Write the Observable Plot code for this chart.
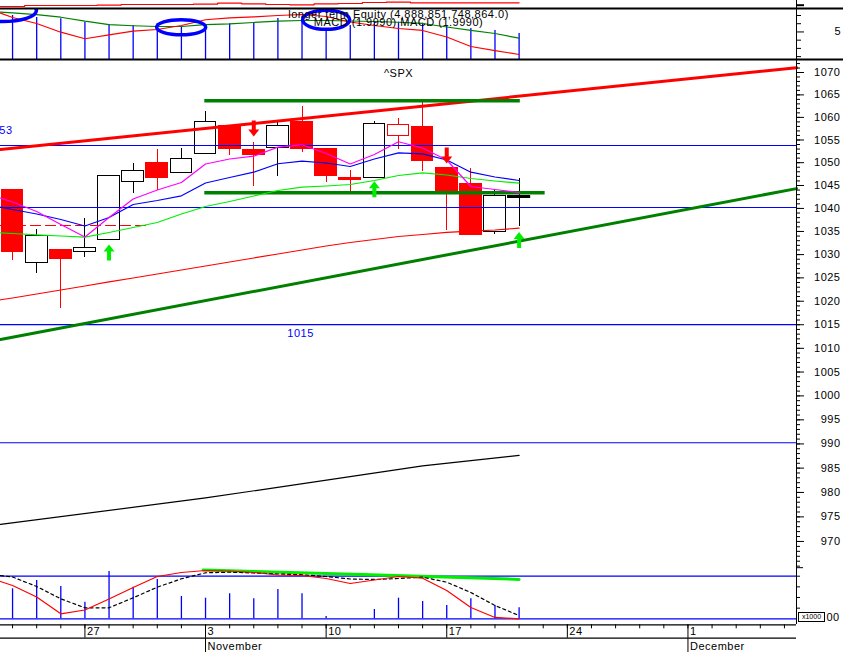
<!DOCTYPE html>
<html><head><meta charset="utf-8">
<script src="https://cdn.jsdelivr.net/npm/d3@7"></script>
<script src="https://cdn.jsdelivr.net/npm/@observablehq/plot@0.6"></script>
<style>
html,body{margin:0;padding:0;background:#fff;}
#chart{position:relative;width:843px;height:652px;overflow:hidden;background:#fff;font-family:"Liberation Sans",Arial,sans-serif;}
#chart svg{position:absolute;left:0;overflow:visible;}
#x1000{position:absolute;left:798px;top:612px;width:25px;height:8px;border:1px solid #000;font:7px "Liberation Sans",Arial,sans-serif;line-height:8px;text-align:center;background:#fff;}
</style></head><body><div id="chart"></div>
<script>
// ---------- calendar (trading-day slots) ----------
const dayLabels = ["22","23","24","27","28","29","30","31","3","4","5","6","7","10","11","12","13","14","17","18","19","20","21","24","25","26","27","28","1","2","3","4","5"];
const mondayIdx = [3, 8, 13, 18, 23, 28];
const monthStartIdx = [8, 28];
const monthNames = ["November", "December"];

// ---------- ^SPX candles (Oct 22 .. Nov 20) ----------
const open  = [1043.91,1028.09,1030.89,1030.46,1033.05,1045.66,1050.04,1047.63,1051.80,1058.20,1052.90,1053.34,1058.87,1053.12,1046.75,1046.75,1055.84,1057.76,1048.79,1045.22,1034.84,1042.60];
const high  = [1043.91,1035.43,1030.89,1037.81,1046.97,1049.82,1052.90,1053.12,1061.31,1058.20,1054.45,1059.09,1062.42,1053.12,1048.29,1059.09,1059.69,1063.37,1048.79,1048.79,1043.91,1046.53];
const low   = [1028.73,1025.94,1018.45,1029.38,1033.05,1043.25,1043.91,1047.63,1051.80,1051.58,1044.78,1046.97,1052.24,1045.66,1043.69,1046.75,1052.90,1048.07,1035.21,1034.19,1034.34,1036.08];
const close = [1030.46,1033.91,1028.95,1031.32,1046.97,1048.07,1046.75,1050.70,1058.87,1053.12,1051.58,1058.20,1053.12,1046.97,1046.31,1058.53,1058.41,1050.33,1043.76,1034.19,1042.60,1042.60];

// ---------- overlays on price panel (first value at the left edge, then one per candle) ----------
const maFast  = [1042.23,1041.40,1039.33,1036.51,1033.80,1038.03,1042.05,1044.02,1045.66,1049.71,1050.81,1051.43,1053.41,1053.94,1052.02,1049.71,1051.80,1054.60,1053.23,1050.59,1044.78,1044.13,1043.47];
const maMid   = [1040.27,1039.77,1038.79,1037.60,1036.18,1038.03,1040.86,1041.73,1042.75,1045.55,1046.75,1047.91,1049.76,1050.33,1049.93,1049.16,1050.81,1052.17,1051.95,1050.59,1047.91,1046.86,1046.09];
const maSlow  = [1034.71,1034.56,1034.28,1034.02,1033.76,1034.78,1035.86,1036.94,1038.79,1040.42,1041.51,1042.71,1043.91,1044.63,1044.89,1045.22,1046.09,1047.19,1047.78,1047.30,1046.53,1045.99,1045.50];
const lowerBand = [1020.31,1020.69,1021.55,1022.40,1023.26,1024.12,1024.97,1025.83,1026.69,1027.55,1028.41,1029.27,1030.13,1030.99,1031.86,1032.61,1033.26,1033.91,1034.34,1034.78,1035.06,1035.32,1035.71];
const longMaIdx = [-0.5, 8, 17, 21];
const longMaVal = [973.46, 978.87, 985.45, 987.61];
const dashIdx = [-0.5, 5.7];
const dashVal = 1036.29;
const upperTrendIdx = [-0.5, 32.5], upperTrendVal = [1052.90, 1071.07];
const lowerTrendIdx = [-0.5, 32.5], lowerTrendVal = [1011.87, 1044.32];
const resistance = {from: 7.97, to: 21.05, value: 1063.68};
const support    = {from: 7.97, to: 22.08, value: 1043.41};
const levels = [1053.78, 1040.20, 1015.0, 990.24];
const edgeLabel = {text: "1053", i: 0.0, v: 1057.09};
const midLabel  = {text: "1015", i: 11.94, v: 1013.14};
const upArrowIdx = [4, 15, 21], upArrowVal = [1030.46, 1044.19, 1033.16];
const downArrowIdx = [10, 18], downArrowVal = [1057.54, 1051.58];
const priceMajor = d3.range(970, 1071, 5);
const priceMinor = d3.range(965, 1073, 1);

// ---------- MACD / equity panel ----------
const macdLine   = [7.28,6.76,6.03,4.97,4.17,4.65,5.09,5.30,5.78,6.48,6.70,6.82,7.00,7.12,6.88,6.21,5.78,5.42,5.18,4.39,3.23,2.74,2.26];
const signalLine = [7.40,7.33,7.10,6.79,6.31,5.90,5.75,5.66,5.66,5.90,5.99,6.15,6.31,6.39,6.39,6.33,6.27,6.18,6.03,5.60,5.18,4.81,4.24];
const macdBars   = [7.0,6.76,6.60,6.18,5.90,5.78,6.03,5.54,5.78,5.99,6.06,6.63,6.88,5.30,5.78,6.18,6.18,6.06,5.78,5.42,5.18,4.81];
const equity     = [2,2,3,3,3,3.3,4,4,4,4.3,5.3,4.7,4,3.7,4.7,5,6,6.3,5.7,5.7,5.7,5.7,5.7];
const circleIdx = [-0.42, 6.99, 13.0], circleVal = [7.6, 5.57, 6.47];
const equityTitle = "longer term Equity (4,888,851,748,864.0)";
const macdTitle = "MACD (1.9990) MACD (1.9990)";

// ---------- oscillator panel ----------
const oscFast = [87.6,78.2,51.2,11.7,20.7,46.5,73.5,99.3,108.7,113.4,112.2,108.7,102.8,101.6,94.6,82.9,91.1,99.3,95.3,66.4,26.5,3.1,0];
const oscSlow = [101.6,98.1,75.8,46.9,25.8,25.8,49.3,74.2,93.9,108,109.4,107.5,105.2,103.3,99.3,93.4,92.3,94.6,97.7,85.9,61.7,31.2,7.7];
const oscBars = [70.4,89.9,75.8,39,111,74.2,92.3,52.3,48.4,58.7,46.9,68.8,58.7,5.4,0,21.8,48.4,40.6,31.2,46.9,31.2,25.8];
const oscGreenIdx = [7.9, 14.5, 21], oscGreenVal = [114.5, 104, 92.5];
const oscLevels = [0, 100];
const oscAxisText = ["x1000", "00"];

// ---------- helpers ----------
const lineIdx = [-0.5, ...d3.range(22)];
const pts = vals => vals.map((v, k) => ({i: lineIdx[k], v}));
const bars = vals => vals.map((v, i) => ({i, v}));
const RED = "#ff0000", BLUE = "#0000ff", DKGREEN = "#008000", LIME = "#00ee00", MAG = "#ff00ff";
const X = {type: "linear", domain: [-0.5, 32.5], axis: null};
const base = {width: 843, marginLeft: 0, marginRight: 47, x: X, color: {type: "identity"},
  style: {background: "transparent", overflow: "visible", fontFamily: '"Liberation Sans",Arial,sans-serif', fontSize: "11px", letterSpacing: "0.5px"}};
const chart = document.getElementById("chart");
function place(svg, top) { svg.style.top = top + "px"; chart.append(svg); }

function ellipse(rx, ry) {
  const k = 0.5523;
  return {draw(c) {
    c.moveTo(rx, 0);
    c.bezierCurveTo(rx, k * ry, k * rx, ry, 0, ry);
    c.bezierCurveTo(-k * rx, ry, -rx, k * ry, -rx, 0);
    c.bezierCurveTo(-rx, -k * ry, -k * rx, -ry, 0, -ry);
    c.bezierCurveTo(k * rx, -ry, rx, -k * ry, rx, 0);
    c.closePath();
  }};
}
const arrowUp = {draw(c) { c.moveTo(0,-8); c.lineTo(5.5,-1); c.lineTo(2,-1); c.lineTo(2,8); c.lineTo(-2,8); c.lineTo(-2,-1); c.lineTo(-5.5,-1); c.closePath(); }};
const arrowDown = {draw(c) { c.moveTo(0,8); c.lineTo(5.5,1); c.lineTo(2,1); c.lineTo(2,-8); c.lineTo(-2,-8); c.lineTo(-2,1); c.lineTo(-5.5,1); c.closePath(); }};

// ---------- top: MACD panel ----------
const circles = circleIdx.map((i, k) => ({i, v: circleVal[k]}));
place(Plot.plot({...base, height: 62, marginTop: 8, marginBottom: 3,
  y: {domain: [1.65, 7.85], axis: null},
  marks: [
    Plot.ruleX(bars(macdBars), {x: "i", y1: 1.65, y2: "v", stroke: BLUE, strokeWidth: 1.3}),
    Plot.line(pts(signalLine), {x: "i", y: "v", stroke: DKGREEN, strokeWidth: 1.2}),
    Plot.line(pts(macdLine), {x: "i", y: "v", stroke: RED, strokeWidth: 1.2}),
    Plot.dot([circles[0]], {x: "i", y: "v", symbol: ellipse(34, 11), fill: "none", stroke: BLUE, strokeWidth: 3.5, clip: true}),
    Plot.dot([circles[1]], {x: "i", y: "v", symbol: ellipse(24.5, 7.5), fill: "none", stroke: BLUE, strokeWidth: 3.5, clip: true}),
    Plot.dot([circles[2]], {x: "i", y: "v", symbol: ellipse(23.5, 9.5), fill: "none", stroke: BLUE, strokeWidth: 3.5, clip: true}),
    Plot.ruleY([7.85, 1.65], {x1: -0.5, x2: 34.5, stroke: "#000", strokeWidth: 2}),
    Plot.text([equityTitle], {frameAnchor: "top", dy: 2, fill: "#000"}),
    Plot.text([macdTitle], {frameAnchor: "top", dy: 10, fill: "#000"}),
    Plot.ruleX([32.5], {stroke: "#000"}),
    Plot.axisY({anchor: "right", ticks: [2,3,4,6,7], tickSize: 4, tickFormat: () => "", label: null}),
    Plot.axisY({anchor: "right", ticks: [5], tickSize: 7, tickPadding: 31, textAnchor: "start", tickFormat: d => String(d), label: null})
  ]}), 0);

// equity strip above MACD panel
place(Plot.plot({...base, height: 8, marginTop: 0, marginBottom: 0,
  y: {domain: [0, 8], range: [8, 0], axis: null},
  marks: [
    Plot.line(pts(equity), {x: "i", y: "v", curve: "step", stroke: RED, strokeWidth: 1.2}),
    Plot.ruleX([32.5], {stroke: "#000"}),
    Plot.axisY({anchor: "right", ticks: [3.3], tickSize: 7, tickFormat: () => "", strokeWidth: 2, label: null})
  ]}), 0);

// ---------- main price panel ----------
const candles = open.map((o, i) => ({i, open: o, high: high[i], low: low[i], close: close[i], prev: i ? close[i - 1] : null}));
const edge = d => (d.close < d.open || (d.prev != null && d.close < d.prev)) ? RED : "#000000";
const body = d => d.close < d.open ? RED : "#ffffff";
place(Plot.plot({...base, height: 507, marginTop: 0, marginBottom: 0,
  y: {type: "log", domain: [964.73, 1072.69], range: [507, 0], axis: null},
  marks: [
    Plot.ruleX(candles, {x: "i", y1: "low", y2: "high", stroke: edge, strokeWidth: 1, shapeRendering: "crispEdges"}),
    Plot.rect(candles, {x1: d => d.i - 0.45, x2: d => d.i + 0.45, y1: "open", y2: "close", fill: body, stroke: edge, shapeRendering: "crispEdges"}),
    Plot.ruleY(candles.filter(d => d.open === d.close), {y: "open", x1: d => d.i - 0.48, x2: d => d.i + 0.48, stroke: edge, strokeWidth: 3}),
    Plot.ruleY(levels, {stroke: BLUE, strokeWidth: 1.2}),
    Plot.line(dashIdx.map(i => ({i, v: dashVal})), {x: "i", y: "v", stroke: RED, strokeWidth: 1.2, strokeDasharray: "10,5"}),
    Plot.line(pts(lowerBand), {x: "i", y: "v", stroke: RED, strokeWidth: 1.2}),
    Plot.line(longMaIdx.map((i, k) => ({i, v: longMaVal[k]})), {x: "i", y: "v", stroke: "#000", strokeWidth: 1.2}),
    Plot.line(upperTrendIdx.map((i, k) => ({i, v: upperTrendVal[k]})), {x: "i", y: "v", stroke: RED, strokeWidth: 3}),
    Plot.line(lowerTrendIdx.map((i, k) => ({i, v: lowerTrendVal[k]})), {x: "i", y: "v", stroke: DKGREEN, strokeWidth: 3}),
    Plot.ruleY([resistance, support], {y: "value", x1: "from", x2: "to", stroke: DKGREEN, strokeWidth: 3.5}),
    Plot.line(pts(maSlow), {x: "i", y: "v", stroke: LIME, strokeWidth: 1.2}),
    Plot.line(pts(maMid), {x: "i", y: "v", stroke: BLUE, strokeWidth: 1.2}),
    Plot.line(pts(maFast), {x: "i", y: "v", stroke: MAG, strokeWidth: 1.2}),
    Plot.dot(upArrowIdx.map((i, k) => ({i, v: upArrowVal[k]})), {x: "i", y: "v", symbol: arrowUp, fill: LIME, stroke: "none"}),
    Plot.dot(downArrowIdx.map((i, k) => ({i, v: downArrowVal[k]})), {x: "i", y: "v", symbol: arrowDown, fill: RED, stroke: "none"}),
    Plot.text([edgeLabel], {x: "i", y: "v", text: "text", fill: BLUE, textAnchor: "end"}),
    Plot.text([midLabel], {x: "i", y: "v", text: "text", fill: BLUE, textAnchor: "middle"}),
    Plot.text(["^SPX"], {frameAnchor: "top", dy: 9, fill: "#000"}),
    Plot.ruleX([32.5], {stroke: "#000"}),
    Plot.axisY({anchor: "right", ticks: priceMinor, tickSize: 3, tickFormat: () => "", label: null}),
    Plot.axisY({anchor: "right", ticks: priceMajor, tickSize: 7, tickPadding: 37, textAnchor: "end", tickFormat: d => String(d), label: null})
  ]}), 60);

// ---------- oscillator panel ----------
place(Plot.plot({...base, height: 59, marginTop: 0, marginBottom: 0,
  y: {domain: [-13.4, 125.1], range: [59, 0], axis: null},
  marks: [
    Plot.ruleX(bars(oscBars), {x: "i", y1: 0, y2: "v", stroke: BLUE, strokeWidth: 1.3}),
    Plot.ruleY(oscLevels, {stroke: BLUE, strokeWidth: 1.3}),
    Plot.line(oscGreenIdx.map((i, k) => ({i, v: oscGreenVal[k]})), {x: "i", y: "v", stroke: LIME, strokeWidth: 3}),
    Plot.line(pts(oscSlow), {x: "i", y: "v", stroke: "#000", strokeWidth: 1.2, strokeDasharray: "3,3"}),
    Plot.line(pts(oscFast), {x: "i", y: "v", stroke: RED, strokeWidth: 1.2}),
    Plot.ruleX([32.5], {stroke: "#000"}),
    Plot.axisY({anchor: "right", ticks: [25, 50, 75, 100], tickSize: 3, tickFormat: () => "", label: null}),
    Plot.axisY({anchor: "right", ticks: [120], tickSize: 6, tickFormat: () => "", label: null}),
    Plot.axisY({anchor: "right", ticks: [3], tickSize: 0, tickPadding: 30, textAnchor: "start", tickFormat: () => oscAxisText[1], label: null})
  ]}), 565);

// ---------- date axis ----------
const days = dayLabels.map((t, i) => ({i, t}));
place(Plot.plot({...base, height: 32, marginTop: 0, marginBottom: 0,
  y: {domain: [0, 32], range: [0, 32], axis: null},
  marks: [
    Plot.ruleY([4.3, 17.7], {stroke: "#000", strokeWidth: 1.3}),
    Plot.ruleX(days, {x: "i", y1: 4.3, y2: 8.3, stroke: "#000"}),
    Plot.ruleX(mondayIdx, {x: d => d, y1: 4.3, y2: 17.7, stroke: "#000"}),
    Plot.ruleX(monthStartIdx, {x: d => d, y1: 17.7, y2: 32, stroke: "#000"}),
    Plot.text(mondayIdx.map(i => days[i]), {x: "i", y: 11.2, text: "t", dx: 2, textAnchor: "start", fill: "#000"}),
    Plot.text(monthStartIdx.map((i, k) => ({i, t: monthNames[k]})), {x: "i", y: 25.5, text: "t", dx: 2, textAnchor: "start", fill: "#000"})
  ]}), 620);

const box = document.createElement("div");
box.id = "x1000"; box.textContent = oscAxisText[0];
chart.append(box);
</script></body></html>
